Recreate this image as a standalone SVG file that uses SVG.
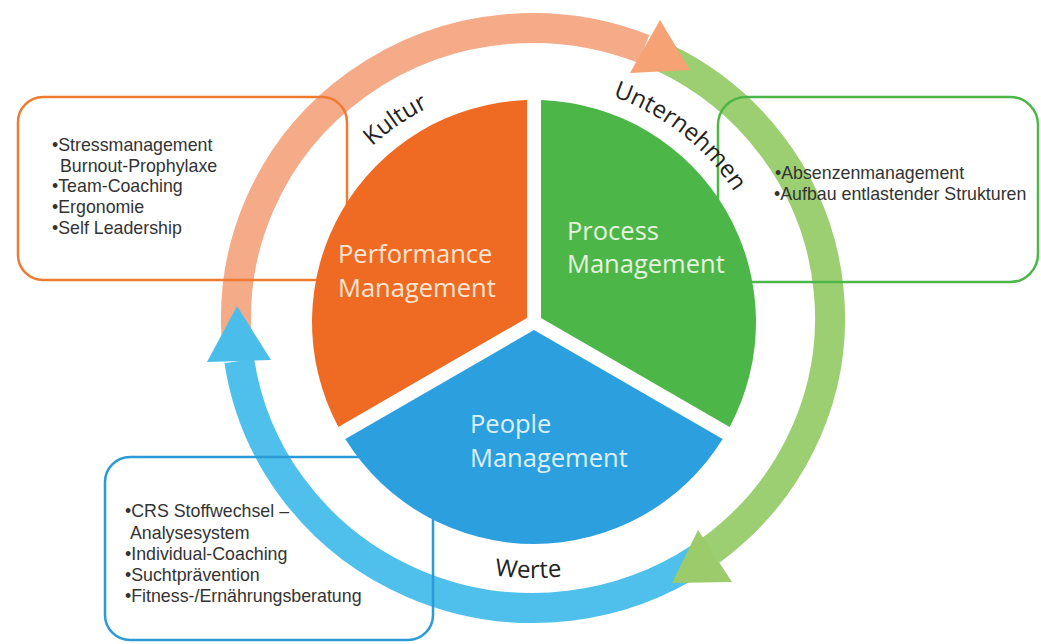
<svg xmlns="http://www.w3.org/2000/svg" width="1041" height="644" viewBox="0 0 1041 644">
  <style>
    .band { fill: none; stroke-width: 30; stroke-linecap: butt; }
    .box { fill: none; stroke-width: 2.5; }
    .bt { font-family: "Liberation Sans", Arial, sans-serif; font-size: 17.8px; fill: #333333; }
    .pt { font-family: "Open Sans", "Liberation Sans", sans-serif; font-size: 25.5px; }
    .lbl { font-family: "Open Sans", "Liberation Sans", sans-serif; font-size: 24px; fill: #222; }
  </style>
  <defs>
    <path id="topArc" d="M 295 322 A 239 239 0 0 1 773 322"/>
    <path id="botArc" d="M 273 318 A 260 260 0 0 0 793 318"/>
  </defs>
  <rect width="1041" height="644" fill="#ffffff"/>

  <g id="connectors">
    <path class="band" stroke="#F5AA88" d="M 236.7 338.2 A 297 290 0 0 1 643.8 48.9"/>
    <path class="band" stroke="#9CCF72" d="M 663.2 57.3 A 297 290 0 0 1 710.5 550.5"/>
    <path class="band" stroke="#4FBFEB" d="M 699.1 558.4 A 297 290 0 0 1 239.3 360.9"/>
    <polygon fill="#F6A274" points="660,20 630,73 690,70"/>
    <polygon fill="#9BCB6B" points="698,530 732,582 672,583"/>
    <polygon fill="#4BBDEA" points="237,306 207,362 271,360"/>
  </g>

  <g id="box-performance">
    <rect class="box" stroke="#EE7B30" x="18" y="97" width="329" height="183" rx="25"/>
    <text class="bt" x="52" y="151">•Stressmanagement</text>
    <text class="bt" x="60" y="172">Burnout-Prophylaxe</text>
    <text class="bt" x="52" y="192">•Team-Coaching</text>
    <text class="bt" x="52" y="213">•Ergonomie</text>
    <text class="bt" x="52" y="234">•Self Leadership</text>
  </g>

  <g id="box-process">
    <rect class="box" stroke="#4CB748" x="718" y="97" width="320" height="185" rx="28"/>
    <text class="bt" x="775" y="179">•Absenzenmanagement</text>
    <text class="bt" x="774" y="200">•Aufbau entlastender Strukturen</text>
  </g>

  <g id="box-people">
    <rect class="box" stroke="#2A9BD8" x="105" y="457" width="328" height="183" rx="25"/>
    <text class="bt" x="125" y="517">•CRS Stoffwechsel –</text>
    <text class="bt" x="130" y="538.5">Analysesystem</text>
    <text class="bt" x="125" y="560">•Individual-Coaching</text>
    <text class="bt" x="125" y="581">•Suchtprävention</text>
    <text class="bt" x="125" y="602">•Fitness-/Ernährungsberatung</text>
  </g>

  <g id="performance">
    <path fill="#EF6A22" d="M 527 317.96 L 527 100.11 A 222 222 0 0 0 338.34 426.88 Z"/>
    <text class="pt" fill="#FCE6D2" x="338" y="263">Performance</text>
    <text class="pt" fill="#FCE6D2" x="338" y="297">Management</text>
  </g>

  <g id="process">
    <path fill="#4CB748" d="M 541 317.96 L 541 100.11 A 222 222 0 0 1 729.66 426.88 Z"/>
    <text class="pt" fill="#E6F3DE" x="567" y="240">Process</text>
    <text class="pt" fill="#E6F3DE" x="567" y="273">Management</text>
  </g>

  <g id="people">
    <path fill="#2CA0DF" d="M 534 330.08 L 722.66 439 A 222 222 0 0 1 345.34 439 Z"/>
    <text class="pt" fill="#DDF0FA" x="470" y="433">People</text>
    <text class="pt" fill="#DDF0FA" x="470" y="467">Management</text>
  </g>

  <g id="labels">
    <text class="lbl" text-anchor="middle"><textPath href="#topArc" startOffset="231.6">Kultur</textPath></text>
    <text class="lbl" text-anchor="middle"><textPath href="#topArc" startOffset="534.1">Unternehmen</textPath></text>
    <text class="lbl" text-anchor="middle"><textPath href="#botArc" startOffset="403.4">Werte</textPath></text>
  </g>
</svg>
